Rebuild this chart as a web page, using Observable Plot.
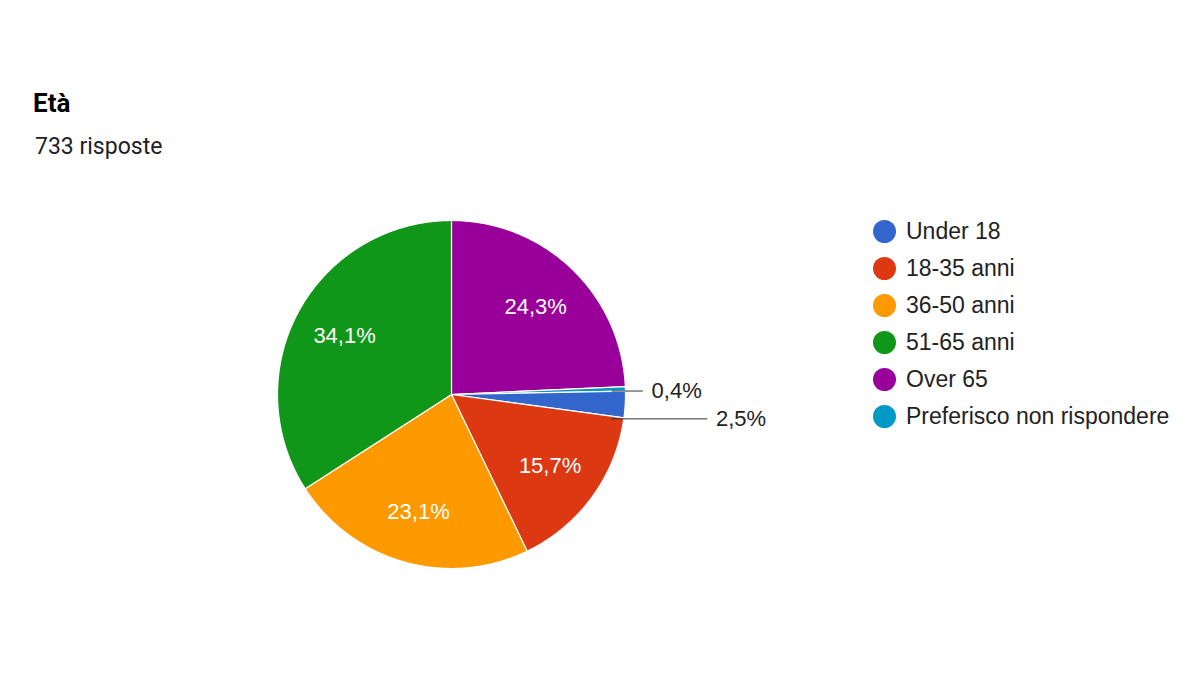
<!DOCTYPE html>
<html>
<head>
<meta charset="utf-8">
<script src="https://cdn.jsdelivr.net/npm/d3@7"></script>
<script src="https://cdn.jsdelivr.net/npm/@observablehq/plot@0.6"></script>
<style>
  html, body { margin: 0; padding: 0; background: #fff; }
  #wrap { position: relative; width: 1200px; height: 675px; overflow: hidden; }
  #title { position: absolute; left: 33px; top: 90px; font: bold 26px Roboto, sans-serif; line-height: 1; color: #000; }
  #subtitle { position: absolute; left: 35px; top: 135px; font: 23px Roboto, sans-serif; line-height: 1; color: #202124; }
  #legend { position: absolute; left: 873px; top: 213px; font: 23px "Liberation Sans", Arial, sans-serif; color: #222; }
  .item { display: flex; align-items: center; height: 37px; }
  .sw { width: 23px; height: 23px; border-radius: 50%; margin-right: 10px; flex: none; }
  #chart { position: absolute; left: 0; top: 0; }
</style>
</head>
<body>
<div id="wrap">
  <div id="chart"></div>
  <div id="title">Età</div>
  <div id="subtitle">733 risposte</div>
  <div id="legend"></div>
</div>
<script>
// Data
const categories = ["Under 18", "18-35 anni", "36-50 anni", "51-65 anni", "Over 65", "Preferisco non rispondere"];
const counts = [18, 115, 169, 250, 178, 3];
const percentLabels = ["2,5%", "15,7%", "23,1%", "34,1%", "24,3%", "0,4%"];
const colors = ["#3366cc", "#dc3912", "#ff9900", "#109618", "#990099", "#0099c6"];
// drawing order clockwise from 12 o'clock
const drawOrder = ["Over 65", "Preferisco non rispondere", "Under 18", "18-35 anni", "36-50 anni", "51-65 anni"];

// Layout
const W = 1200, H = 675, cx = 451, cy = 394, R = 174;

const total = d3.sum(counts);
const rows = drawOrder.map(c => {
  const i = categories.indexOf(c);
  return {cat: c, value: counts[i], label: percentLabels[i]};
});
let acc = 0;
rows.forEach(r => {
  r.a0 = acc / total * 2 * Math.PI;
  acc += r.value;
  r.a1 = acc / total * 2 * Math.PI;
  r.mid = (r.a0 + r.a1) / 2;
  r.frac = r.value / total;
});

// Polygon points in unit coords (y up), angle clockwise from 12 o'clock
const pts = [];
rows.forEach(r => {
  pts.push({cat: r.cat, x: 0, y: 0});
  const n = Math.max(2, Math.ceil((r.a1 - r.a0) / (Math.PI / 360)));
  for (let k = 0; k <= n; k++) {
    const a = r.a0 + (r.a1 - r.a0) * k / n;
    pts.push({cat: r.cat, x: Math.sin(a), y: Math.cos(a)});
  }
});

const inside = rows.filter(r => r.frac >= 0.05).map(r => ({
  label: r.label, x: 0.7 * Math.sin(r.mid), y: 0.7 * Math.cos(r.mid)
}));
// small slices: labels outside with horizontal leader lines
const outShift = {"Preferisco non rispondere": [1.15, 0.02], "Under 18": [1.52, -0.14]};
const outside = rows.filter(r => r.frac < 0.05).map(r => {
  const [lx, ly] = outShift[r.cat];
  return {label: r.label, x0: 0.92, x1: lx - 0.05, x: lx, y: ly};
});

const chart = Plot.plot({
  width: W, height: H, margin: 0,
  x: {domain: [-cx / R, (W - cx) / R], axis: null},
  y: {domain: [-(H - cy) / R, cy / R], axis: null},
  color: {domain: categories, range: colors},
  style: {fontFamily: "'Liberation Sans', Arial, sans-serif"},
  marks: [
    Plot.line(pts, {x: "x", y: "y", z: "cat", fill: "cat", stroke: "white", strokeWidth: 1.2, curve: "linear-closed"}),
    Plot.text(inside, {x: "x", y: "y", text: "label", fill: "white", fontSize: 22}),
    Plot.link(outside, {x1: "x0", x2: "x1", y1: "y", y2: "y", stroke: "#333", strokeWidth: 1}),
    Plot.text(outside, {x: "x", y: "y", text: "label", fill: "#222", fontSize: 22, textAnchor: "start"})
  ]
});
document.getElementById("chart").appendChild(chart);

const legend = document.getElementById("legend");
categories.forEach((c, i) => {
  const it = document.createElement("div");
  it.className = "item";
  const sw = document.createElement("span");
  sw.className = "sw";
  sw.style.background = colors[i];
  const tx = document.createElement("span");
  tx.textContent = c;
  it.appendChild(sw); it.appendChild(tx);
  legend.appendChild(it);
});
</script>
</body>
</html>
